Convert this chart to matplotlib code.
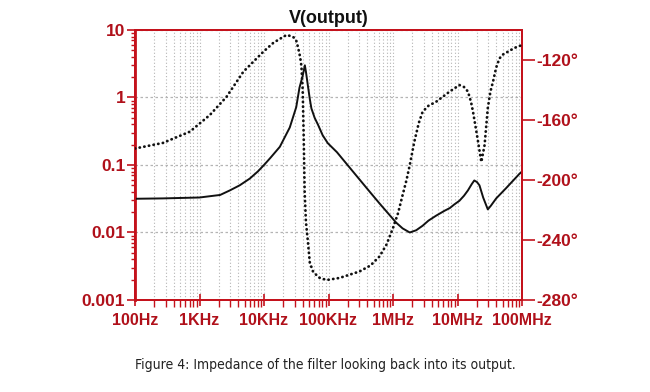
import matplotlib
matplotlib.use("Agg")
import matplotlib.pyplot as plt
from matplotlib.ticker import FixedLocator, LogLocator, NullFormatter

# ---- data ----
mag_freq = [100, 270, 1000, 2090, 2950, 4200, 6030, 8000, 10000, 12600, 17600, 25100,
            31600, 35500, 39800, 43000, 44700, 47900, 51300, 54300, 61000, 69200,
            81300, 97700, 135000, 214000, 437000, 617000, 891000, 1.12e6, 1.41e6,
            1.82e6, 2.29e6, 2.88e6, 3.55e6, 4.68e6, 6.3e6, 7.59e6, 8.9e6, 1.07e7,
            1.26e7, 1.45e7, 1.66e7, 1.82e7, 2.0e7, 2.19e7, 2.5e7, 2.95e7, 3.3e7,
            3.98e7, 5.62e7, 9.12e7, 1e8]
mag_vals = [0.0316, 0.032, 0.033, 0.036, 0.042, 0.05, 0.063, 0.08, 0.1, 0.128, 0.186, 0.36,
            0.72, 1.4, 2.1, 3.0, 2.4, 1.5, 0.95, 0.69, 0.5, 0.39,
            0.275, 0.21, 0.155, 0.091, 0.04, 0.027, 0.018, 0.014, 0.0115,
            0.010, 0.0108, 0.0126, 0.015, 0.0178, 0.021, 0.023, 0.026, 0.0295,
            0.035, 0.042, 0.052, 0.059, 0.056, 0.05, 0.033, 0.022, 0.025,
            0.032, 0.045, 0.074, 0.08]

ph_freq = [100, 270, 708, 1445, 2630, 4790, 9770, 14000, 20000, 22400, 28200, 31600,
           33900, 36300, 38000, 39800, 41200, 42700, 44700, 47900, 51300, 57500,
           70800, 93300, 148000, 302000, 447000, 617000, 794000, 1.0e6, 1.2e6,
           1.41e6, 1.62e6, 1.82e6, 2.14e6, 2.51e6, 2.88e6, 3.55e6, 4.68e6, 7.59e6,
           1.07e7, 1.26e7, 1.45e7, 1.62e7, 1.74e7, 2.04e7, 2.34e7, 2.63e7, 2.95e7,
           3.24e7, 3.55e7, 3.98e7, 4.47e7, 5.0e7, 6.03e7, 7.6e7, 1e8]
ph_vals = [-179, -175.3, -167.8, -156.7, -144.5, -127.8, -114.5, -108.5, -104.5, -103.3,
           -104.5, -107, -112, -118, -124, -140, -170, -208, -228, -241, -255, -261,
           -265, -266.7, -265.3, -261, -257, -251, -243, -232, -222,
           -210, -200, -190, -174.5, -162, -154.5, -150.5, -147.8, -141,
           -136.7, -138, -141, -148, -154.5, -172, -188, -176.7, -152,
           -141, -134.5, -125, -119, -116.5, -114.5, -112, -110]

x_ticks = [1e2, 1e3, 1e4, 1e5, 1e6, 1e7, 1e8]
x_labels = ["100Hz", "1KHz", "10KHz", "100KHz", "1MHz", "10MHz", "100MHz"]
y_ticks = [0.001, 0.01, 0.1, 1, 10]
y_labels = ["0.001", "0.01", "0.1", "1", "10"]
ph_ticks = [-280, -240, -200, -160, -120]
ph_labels = ["-280°", "-240°", "-200°", "-160°", "-120°"]

title = "V(output)"
caption = "Figure 4: Impedance of the filter looking back into its output."

# ---- style ----
RED = "#c4121c"
LRED = "#b0101a"
GRID = "#b4b4b4"
plt.rcParams['font.family'] = ['Liberation Sans', 'DejaVu Sans']

fig = plt.figure(figsize=(6.5, 3.92), dpi=100)
ax = fig.add_axes([135/650, 1-300/392, 387/650, 270/392])
ax2 = ax.twinx()

ax.set_xscale("log")
ax.set_yscale("log")
ax.set_xlim(1e2, 1e8)
ax.set_ylim(1e-3, 10)
ax2.set_ylim(-280, -100)

# grid
ax.xaxis.set_minor_locator(LogLocator(base=10, subs=range(2, 10), numticks=20))
ax.yaxis.set_minor_locator(LogLocator(base=10, subs=range(2, 10), numticks=20))
ax.grid(which="both", axis="x", color=GRID, linestyle=(0, (1, 2)), linewidth=0.8)
ax.grid(which="major", axis="y", color=GRID, linestyle=(0, (2, 2)), linewidth=0.9)
ax.set_axisbelow(True)

# curves
ax.plot(mag_freq, mag_vals, color="#111111", linewidth=1.4, solid_joinstyle="round", zorder=3)
ax2.plot(ph_freq, ph_vals, color="#111111", linewidth=2.0,
         linestyle=(0, (0.1, 1.6)), dash_capstyle="round", zorder=3)

# ticks
ax.set_xticks(x_ticks)
ax.set_xticklabels(x_labels)
ax.xaxis.set_minor_formatter(NullFormatter())
ax.set_yticks(y_ticks)
ax.set_yticklabels(y_labels)
ax.yaxis.set_minor_formatter(NullFormatter())
ax2.yaxis.set_major_locator(FixedLocator(ph_ticks))
ax2.set_yticklabels(ph_labels)

for t in ax.get_xticklabels():
    t.set_fontsize(11.5); t.set_fontweight("bold"); t.set_color(LRED)
for t in ax.get_yticklabels():
    t.set_fontsize(12.5); t.set_fontweight("bold"); t.set_color(LRED)
for t in ax2.get_yticklabels():
    t.set_fontsize(12.5); t.set_fontweight("bold"); t.set_color(LRED)

ax.tick_params(axis="x", which="major", direction="inout", length=9, width=1.2, color=RED, pad=5)
ax.tick_params(axis="x", which="minor", direction="out", length=5, width=1.0, color=RED)
ax.tick_params(axis="y", which="major", direction="out", length=6, width=1.2, color=RED, pad=1)
ax.tick_params(axis="y", which="minor", direction="out", length=3, width=1.0, color=RED)
ax2.tick_params(axis="y", which="major", direction="out", length=9, width=1.2, color=RED, pad=1)
ax2.tick_params(axis="y", which="minor", length=0)

for a in (ax, ax2):
    for s in a.spines.values():
        s.set_color(RED)
        s.set_linewidth(1.4)
ax.spines["left"].set_linewidth(2.0)

ax.set_title(title, fontsize=13, fontweight="bold", color="#111111", pad=5)

fig.text(0.5, 1-365/392, caption, ha="center", va="center", fontsize=10,
         color="#222222", family=["Liberation Sans Narrow", "DejaVu Sans"],
         fontstretch="condensed")

fig.savefig("out.png", dpi=100, facecolor="white")
